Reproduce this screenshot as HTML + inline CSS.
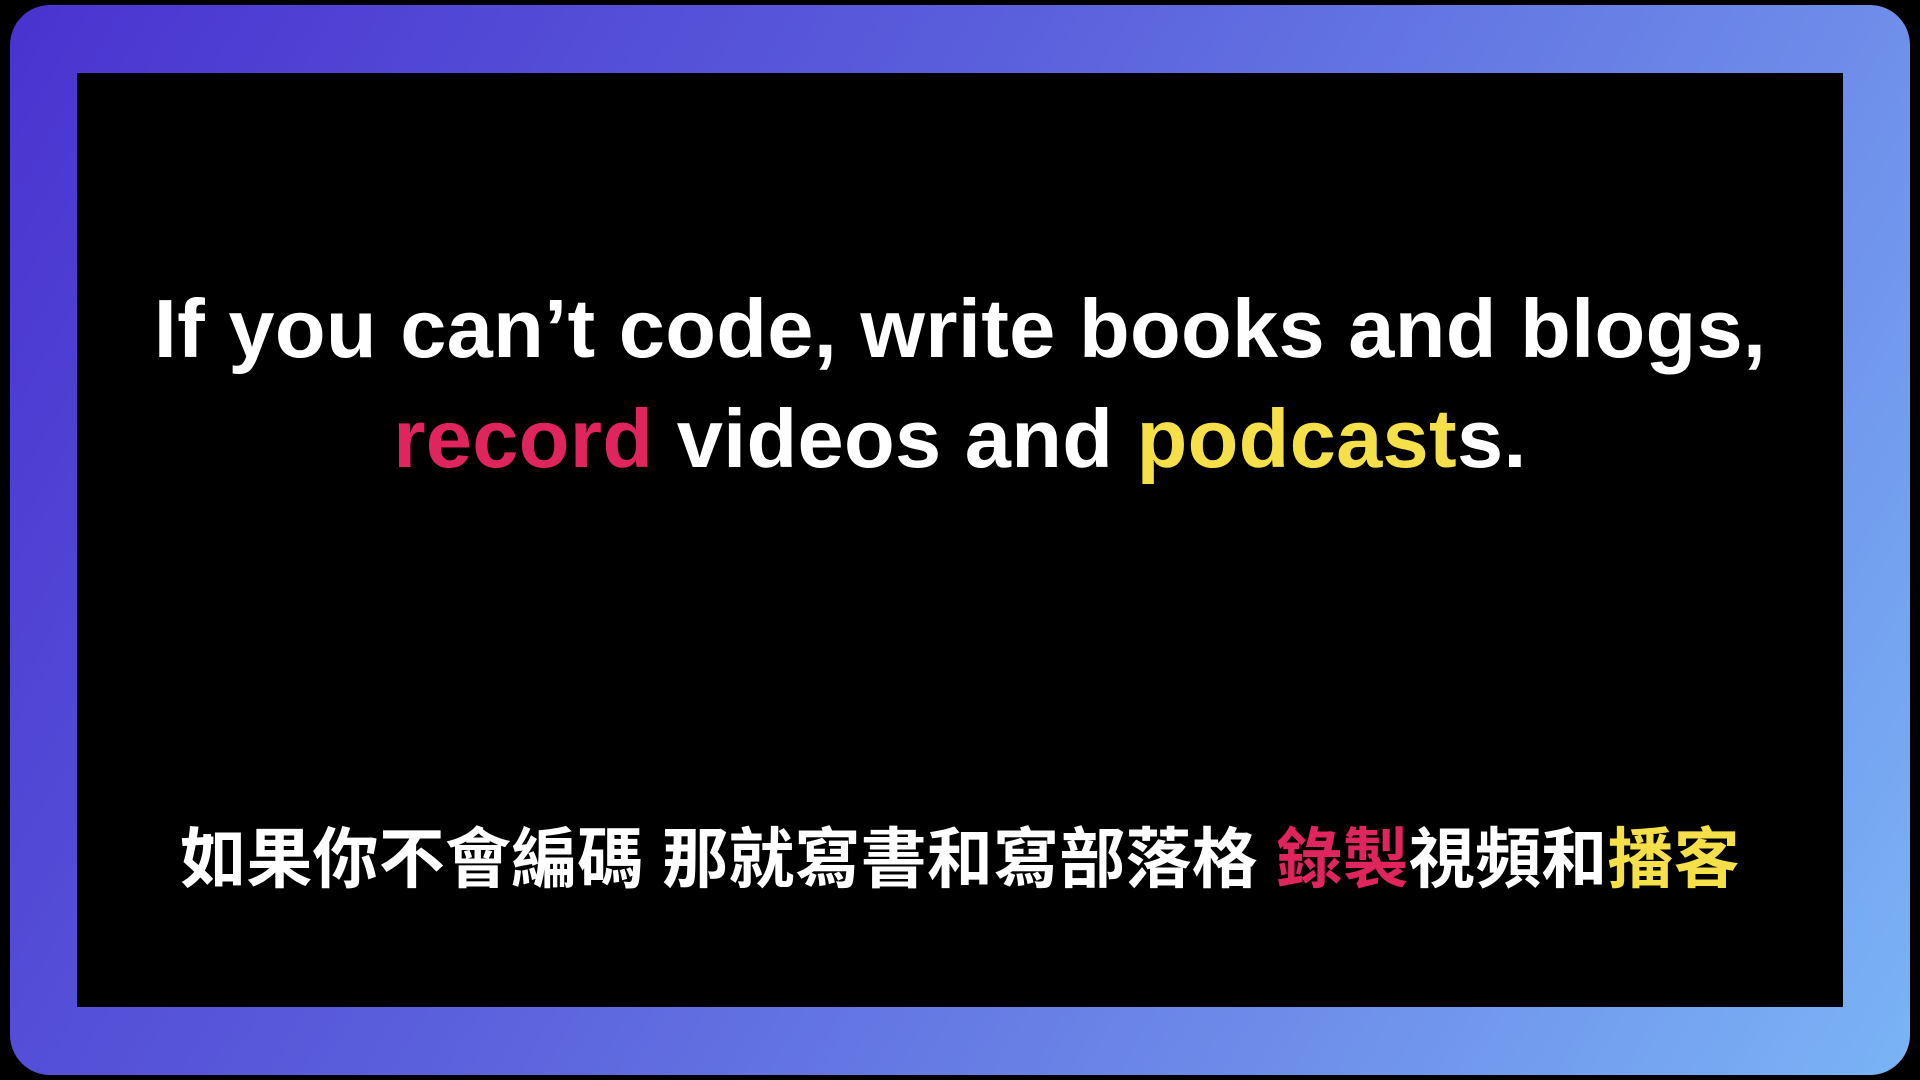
<!DOCTYPE html>
<html><head><meta charset="utf-8"><style>
html,body{margin:0;padding:0;background:#000;width:1920px;height:1080px;overflow:hidden}
#frame{position:absolute;left:10px;top:5px;width:1900px;height:1070px;border-radius:40px;background:linear-gradient(120deg,#4a33d0 0%,#5a5fdc 40%,#6e8eea 75%,#7ab4f6 100%)}
#screen{position:absolute;left:77px;top:73px;width:1766px;height:934px;background:#000}
.en{position:absolute;left:0;width:1920px;text-align:center;color:#fff;font-family:"Liberation Sans","DejaVu Sans",sans-serif;font-weight:bold;font-size:83px;letter-spacing:0.3px}
.zh{position:absolute;left:0;width:1920px;text-align:center;color:#fff;font-family:"Liberation Sans","Noto Sans CJK TC",sans-serif;font-weight:bold;font-size:66px;letter-spacing:0.2px}
.r{color:#e0245e}.y{color:#f5e04a}
</style></head><body>
<div id="frame"></div>
<div id="screen"></div>
<div class="en" style="top:281px">If you can’t code, write books and blogs,</div>
<div class="en" style="top:391px"><span class="r">record</span> videos and <span class="y">podcast</span>s.</div>
<div class="zh" style="top:806px">如果你不會編碼 那就寫書和寫部落格 <span class="r">錄製</span>視頻和<span class="y">播客</span></div>
</body></html>
